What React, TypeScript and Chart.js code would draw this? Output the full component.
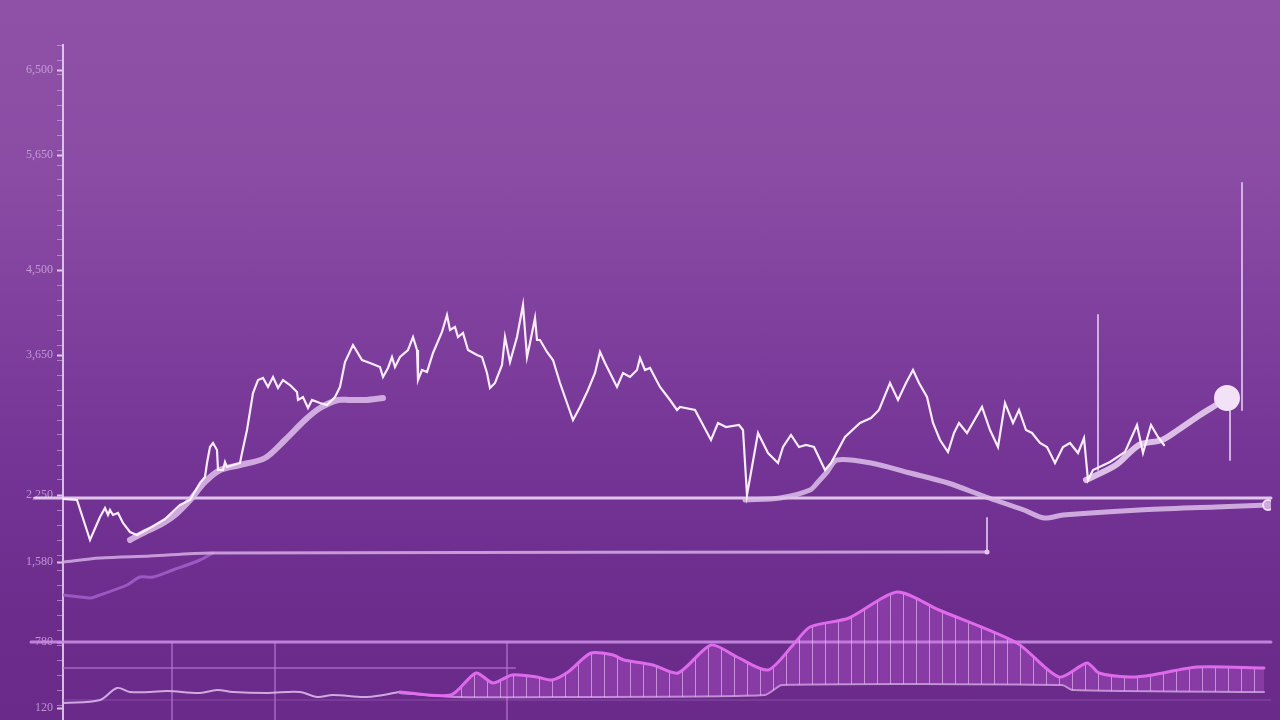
import React, { useEffect, useRef } from "react";
import { Chart, registerables } from "chart.js";

Chart.register(...registerables);

// ---- data (x: trading-day index, y: price units) ----
const priceX = [0, 3.5, 6.75, 9.25, 10.5, 11.25, 11.75, 12.5, 13.75, 15, 16.75, 18.5, 21.75, 25.5, 29.25, 31.75, 34.25, 35.5, 36, 36.75, 37.5, 38.5, 38.75, 40, 40.5, 41, 44.25, 44.75, 46, 47.5, 48.75, 50, 51.25, 52.5, 53.75, 55, 56.75, 58.5, 58.75, 60, 61.25, 62.25, 64.25, 66, 68, 69.25, 70.5, 72.5, 74.75, 76.75, 79.25, 80, 81.25, 82.25, 83, 84.25, 86.25, 87.5, 88.5, 88.75, 89.75, 91, 92.5, 94.75, 96, 96.75, 98, 98.75, 100, 101.25, 103.5, 104.75, 106, 106.75, 108, 109.75, 110.5, 111.75, 113.5, 115, 116, 116.75, 118, 118.5, 119.25, 121, 122.5, 124.25, 126, 127.5, 129.25, 131.25, 133, 134.25, 135.5, 136.75, 138.5, 140, 141.75, 143.5, 144.25, 145.5, 146.75, 149.25, 151.75, 153.5, 154.25, 158, 162, 163.75, 165.75, 169, 170, 171, 173.75, 176.25, 178.75, 180, 182, 184, 185.75, 187.75, 190.5, 192, 195.5, 199.25, 202, 204, 206.75, 208.75, 210.75, 212.5, 214, 216, 217.5, 219.25, 221.25, 222.75, 224, 226, 229.75, 231.75, 233.75, 235.5, 237.5, 239, 240.75, 242.25, 244.25, 246, 248, 250, 251.75, 253.75, 255.25, 256.25, 257.5, 261.75, 265.5, 268.5, 270, 272, 273.75, 275.25];
const priceY = [2210, 2200, 1800, 2030, 2120, 2050, 2100, 2050, 2070, 1970, 1880, 1850, 1920, 2010, 2150, 2200, 2370, 2430, 2570, 2730, 2770, 2700, 2500, 2500, 2580, 2530, 2570, 2670, 2900, 3270, 3400, 3420, 3330, 3430, 3320, 3400, 3350, 3280, 3200, 3230, 3120, 3200, 3170, 3150, 3230, 3330, 3580, 3750, 3600, 3570, 3530, 3430, 3520, 3630, 3530, 3630, 3700, 3830, 3700, 3400, 3500, 3480, 3670, 3880, 4050, 3900, 3930, 3830, 3870, 3700, 3650, 3630, 3470, 3320, 3370, 3550, 3830, 3580, 3830, 4150, 3630, 3770, 4020, 3800, 3800, 3680, 3600, 3370, 3170, 3000, 3130, 3300, 3470, 3680, 3570, 3470, 3330, 3470, 3430, 3500, 3620, 3500, 3520, 3330, 3200, 3100, 3130, 3100, 2800, 2970, 2930, 2950, 2900, 2250, 2870, 2670, 2570, 2730, 2850, 2730, 2750, 2730, 2500, 2570, 2830, 2970, 3020, 3100, 3370, 3200, 3370, 3500, 3370, 3230, 2970, 2800, 2680, 2870, 2970, 2870, 3130, 2900, 2730, 3170, 2970, 3100, 2900, 2870, 2770, 2730, 2570, 2730, 2770, 2670, 2820, 2400, 2500, 2580, 2680, 2950, 2670, 2950, 2830, 2750];

const maLeftX = [16.75, 20.5, 24.25, 28, 31.75, 35.5, 39.25, 44.25, 50.5, 55.5, 60.5, 64.25, 68.75, 71.75, 75.5, 80];
const maLeftY = [1800, 1880, 1950, 2050, 2200, 2380, 2500, 2550, 2620, 2800, 3000, 3120, 3200, 3200, 3200, 3220];

const maMidX = [170.5, 179.25, 186.75, 188.75, 191, 193.5, 202, 211.75, 221.25, 230.75, 240.25, 245.25, 250, 269, 288.25, 301.25];
const maMidY = [2200, 2220, 2300, 2380, 2480, 2600, 2570, 2470, 2370, 2230, 2100, 2020, 2050, 2100, 2130, 2150];

const maRightX = [255.75, 263.25, 269, 274.75, 278.75, 284.25, 288.25, 291];
const maRightY = [2400, 2550, 2750, 2800, 2900, 3050, 3150, 3220];

const supportX = [-7, 302];
const supportY = [2220, 2220];

const baseLineX = [0, 9.25, 21.75, 36.75, 231];
const baseLineY = [1580, 1620, 1640, 1670, 1680];

const violetX = [0, 6.75, 8.5, 16, 19.25, 22.5, 27.5, 34.25, 37.5];
const violetY = [1250, 1220, 1240, 1350, 1430, 1430, 1500, 1600, 1670];

const volLevelX = [-8, 302];
const volLevelY = [780, 780];
const volLevel2X = [0, 113];
const volLevel2Y = [520, 520];
const floorX = [0, 302];
const floorY = [200, 200];

const volLeftX = [0, 9.25, 13.5, 16.75, 21.75, 26, 34.25, 38.5, 42.5, 51, 59.25, 63.5, 67.5, 76, 84.25];
const volLeftY = [170, 200, 320, 280, 280, 290, 270, 300, 280, 270, 280, 230, 250, 230, 280];

const volX = [84.25, 97, 103.25, 107.5, 112.25, 118.5, 122.25, 126.25, 132, 137.5, 140.25, 147.5, 153.75, 162, 168.5, 176.25, 182.5, 186.75, 196.5, 208.5, 219, 238.5, 249, 256, 259, 266.75, 272.25, 283.5, 300.25];
const volY = [280, 250, 470, 370, 450, 430, 400, 480, 670, 650, 600, 550, 470, 750, 630, 500, 750, 930, 1020, 1280, 1100, 770, 430, 570, 470, 430, 450, 530, 520];

const volBaseX = [84.25, 98.25, 124.25, 175.5, 179.75, 249.75, 252.5, 300.25];
const volBaseY = [270, 230, 230, 250, 350, 350, 300, 280];

// vertical marker segments: [x, yTop, yBottom]
const markerX = [294.75, 291.75, 258.75, 231];
const markerTop = [5370, 3170, 4050, 2020];
const markerBottom = [3100, 2600, 2500, 1680];

const gridX = [27.25, 53, 111];
const gridTop = [780, 780, 780];

const yTickValues = [6500, 5650, 4500, 3650, 2250, 1580, 780, 120];
const yTickLabels = ["6,500", "5,650", "4,500", "3,650", "2,250", "1,580", "780", "120"];

const pts = (xs: number[], ys: number[]) => xs.map((x, i) => ({ x, y: ys[i] }));

export default function App() {
  const ref = useRef<HTMLCanvasElement | null>(null);

  useEffect(() => {
    document.body.style.margin = "0";
    const canvas = ref.current;
    if (!canvas) return;

    const pc = document.createElement("canvas");
    pc.width = 13;
    pc.height = 8;
    const pctx = pc.getContext("2d")!;
    pctx.fillStyle = "rgba(205,95,225,0.30)";
    pctx.fillRect(0, 0, 13, 8);
    pctx.strokeStyle = "rgba(240,200,250,0.6)";
    pctx.lineWidth = 1;
    pctx.beginPath();
    pctx.moveTo(6.5, 0);
    pctx.lineTo(6.5, 8);
    pctx.stroke();
    const pattern = canvas.getContext("2d")!.createPattern(pc, "repeat");

    const line = (data: any, color: string, width: number, extra: any = {}) => ({
      data,
      borderColor: color,
      borderWidth: width,
      pointRadius: 0,
      pointHoverRadius: 0,
      fill: false,
      tension: 0,
      borderCapStyle: "round",
      borderJoinStyle: "round",
      ...extra,
    });

    const markerSets = markerX.map((x, i) =>
      line(
        [
          { x, y: markerTop[i] },
          { x, y: markerBottom[i] },
        ],
        "rgba(225,195,238,0.85)",
        2
      )
    );
    const gridSets = gridX.map((x, i) =>
      line(
        [
          { x, y: gridTop[i] },
          { x, y: 0 },
        ],
        "rgba(190,130,215,0.45)",
        1
      )
    );

    const lastRight = maRightX.length - 1;
    const lastMid = maMidX.length - 1;

    const chart = new Chart(canvas, {
      type: "line",
      data: {
        datasets: [
          line(pts(priceX, priceY), "rgba(255,246,255,0.95)", 2.2, { borderJoinStyle: "miter" }),
          line(pts(maRightX, maRightY), "rgba(232,205,240,0.9)", 6, {
            tension: 0.3,
            pointRadius: (c: any) => (c.dataIndex === lastRight ? 10 : 0),
            pointBackgroundColor: "#f3e1f7",
            pointBorderColor: "#f3e1f7",
          }),
          line(pts(maLeftX, maLeftY), "rgba(225,190,236,0.85)", 6, { tension: 0.3 }),
          line(pts(maMidX, maMidY), "rgba(222,190,234,0.85)", 5, {
            tension: 0.3,
            pointRadius: (c: any) => (c.dataIndex === lastMid ? 5 : 0),
            pointBackgroundColor: "rgba(210,170,225,0.9)",
            pointBorderColor: "#f0dcf5",
            pointBorderWidth: 2,
          }),
          ...markerSets,
          line(pts(supportX, supportY), "rgba(236,214,245,0.9)", 3, { clip: false }),
          line(pts(baseLineX, baseLineY), "rgba(214,172,230,0.85)", 3, {
            tension: 0.3,
            pointRadius: (c: any) => (c.dataIndex === baseLineX.length - 1 ? 2.5 : 0),
            pointBackgroundColor: "#e6cbef",
            pointBorderWidth: 0,
          }),
          line(pts(violetX, violetY), "rgba(165,95,205,0.85)", 3, { tension: 0.3 }),
          line(pts(volX, volY), "rgba(228,110,240,0.95)", 3, {
            tension: 0.25,
            fill: "+1",
            backgroundColor: pattern,
          }),
          line(pts(volBaseX, volBaseY), "rgba(222,185,236,0.75)", 2, { tension: 0.2 }),
          line(pts(volLeftX, volLeftY), "rgba(222,182,236,0.9)", 2, { tension: 0.35 }),
          line(pts(volLevelX, volLevelY), "rgba(200,140,225,0.9)", 3, { clip: false }),
          line(pts(volLevel2X, volLevel2Y), "rgba(180,115,212,0.6)", 2),
          line(pts(floorX, floorY), "rgba(175,110,205,0.5)", 1),
          ...gridSets,
        ],
      },
      options: {
        animation: false,
        responsive: false,
        maintainAspectRatio: false,
        layout: { autoPadding: false, padding: { top: 45, right: 9, bottom: 0, left: 0 } },
        plugins: { legend: { display: false }, tooltip: { enabled: false } },
        scales: {
          x: { type: "linear", min: 0, max: 302, display: false },
          y: {
            type: "linear",
            min: 0,
            max: 6750,
            afterFit: (s: any) => {
              s.width = 63;
              s.paddingTop = 0;
              s.paddingBottom = 0;
            },
            afterBuildTicks: (axis: any) => {
              const vals: number[] = [];
              for (let v = 0; v <= 6750; v += 150) vals.push(v);
              yTickValues.forEach((v) => {
                if (!vals.includes(v)) vals.push(v);
              });
              vals.sort((a, b) => a - b);
              axis.ticks = vals.map((v) => ({ value: v }));
            },
            border: { display: true, color: "rgba(236,214,245,0.85)", width: 2 },
            grid: {
              drawOnChartArea: false,
              drawTicks: true,
              tickLength: 6,
              tickColor: (c: any) =>
                yTickValues.includes(c.tick?.value) ? "rgba(236,214,245,0.9)" : "rgba(220,190,235,0.55)",
              tickWidth: (c: any) => (yTickValues.includes(c.tick?.value) ? 2 : 1),
            },
            ticks: {
              autoSkip: false,
              padding: 4,
              color: "rgba(215,180,232,0.75)",
              font: { family: "Liberation Serif", size: 12 },
              callback: (v: any) => {
                const i = yTickValues.indexOf(Number(v));
                return i >= 0 ? yTickLabels[i] : "";
              },
            },
          },
        },
      },
    });
    return () => chart.destroy();
  }, []);

  return (
    <div
      style={{
        position: "fixed",
        left: 0,
        top: 0,
        width: 1280,
        height: 720,
        background:
          "linear-gradient(180deg, #8f51a7 0%, #8a4ba4 25%, #7f3f9d 45%, #743495 65%, #6c2c8c 85%, #692a89 100%)",
      }}
    >
      <canvas ref={ref} width={1280} height={720} style={{ display: "block" }} />
    </div>
  );
}
